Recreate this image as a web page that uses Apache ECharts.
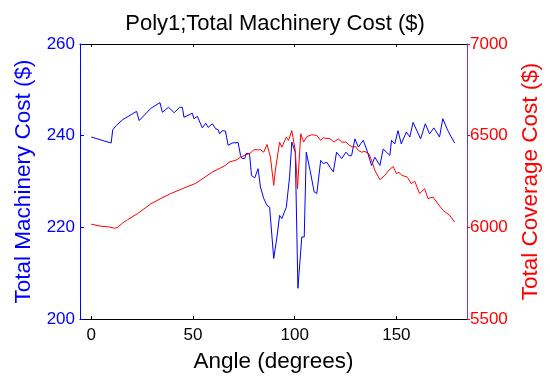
<!DOCTYPE html>
<html><head><meta charset="utf-8">
<script src="https://cdn.jsdelivr.net/npm/echarts@6/dist/echarts.min.js"></script>
<style>html,body{margin:0;padding:0;background:#fff}#c{width:550px;height:382px}</style>
</head><body><div id="c"></div>
<script>
const machineryAngle = [0,9.8,10.6,12.3,15.5,22.3,23.6,29.4,33.8,35,38,40.8,43.5,44.8,45.6,49.7,50.5,52.2,54.6,56.3,57.5,59.5,61.2,62.4,63.1,64.4,66,67.3,69.3,72.2,73.4,74.2,75.5,76.1,77.8,78.8,80.4,82,83.2,84.8,86.4,87.7,89.7,91.3,92.6,93.7,95.9,97.5,98.6,100.3,101.6,103.5,104.7,105.7,107.6,109.6,110.9,112.8,114.1,115.8,117.4,119,120.6,123.1,125.2,126.8,128,129.6,131.3,133.7,135.3,137.8,139.4,141.9,143.5,145.1,146.8,147.6,149.2,150.8,152.4,154.9,156.6,158.2,161.9,164.2,166.3,168.4,171.2,172.8,175.3,178.6];
const machineryCost = [239.7,238.4,241.3,242.2,243.5,245.3,243.3,246.0,247.2,245.1,246.2,245.0,246.2,246.2,244.0,244.9,243.7,244.2,241.7,242.7,241.8,242.6,241.5,241.3,240.4,241.1,241.0,237.9,238.4,238.5,235.7,235.0,235.0,236.1,236.1,231.3,230.8,232.8,228.8,226.3,224.8,224.4,213.2,217.9,222.6,221.9,224.4,231.0,238.6,236.4,206.7,217.9,217.9,236.4,232.4,227.7,227.4,234.6,233.9,234.2,233.1,232.1,236.4,235.0,236.4,235.6,235.7,239.3,237.5,239.0,237.1,233.5,235.3,233.5,237.1,236.4,235.7,239.0,238.2,241.1,238.2,240.8,239.7,242.9,239.3,242.6,240.4,241.7,239.7,243.7,241.1,238.4];
const coverageAngle = [0,4.9,9,11.4,13,15.5,17.9,22.8,29.4,34.2,39.1,44.8,51.4,59.5,66,67.7,71.7,73.4,75.8,78.3,79.9,83.2,84.8,86.4,88.1,89.7,90.5,92.6,93.7,95.9,97,98.6,100.3,101.4,103,104.4,106,108.4,110.9,112.8,114.1,117.4,119.4,121.5,123.1,125.2,126.9,128.8,129.9,131.3,132.9,134.5,136.5,137.8,139.4,141.9,144.3,145.9,148.4,150,151.2,152.8,155.4,157.3,159,161.4,163.9,165.5,168,170.4,172.9,173.7,176.1,178.6];
const coverageCost = [6017,6006,6002,5995,6000,6024,6042,6075,6129,6157,6184,6211,6240,6301,6338,6355,6369,6383,6395,6405,6423,6423,6410,6452,6383,6229,6311,6465,6437,6492,6474,6528,6419,6211,6510,6465,6495,6505,6501,6474,6488,6483,6465,6483,6465,6465,6447,6437,6441,6419,6410,6414,6401,6365,6311,6260,6283,6307,6332,6293,6300,6283,6274,6238,6252,6184,6211,6157,6165,6129,6093,6100,6066,6029];
const xTicks = [0,50,100,150];
const leftTicks = [200,220,240,260];
const rightTicks = [5500,6000,6500,7000];

const FONT = 'Liberation Sans';
const pair = (xs, ys) => xs.map((x, i) => [x, ys[i]]);
const chart = echarts.init(document.getElementById('c'), null, {renderer: 'canvas'});
const XMIN = -5.5, XMAX = 184.7;
chart.setOption({
  animation: false,
  backgroundColor: '#fff',
  title: {text: 'Poly1;Total Machinery Cost ($)', left: 'center', top: 8,
    textStyle: {fontFamily: FONT, fontSize: 22, fontWeight: 'normal', color: '#000'}},
  grid: {left: 80, right: 81, top: 44, bottom: 63},
  xAxis: [{
    type: 'value', min: XMIN, max: XMAX, position: 'bottom',
    name: 'Angle (degrees)', nameLocation: 'middle', nameGap: 31,
    nameTextStyle: {fontFamily: FONT, fontSize: 22.5, color: '#000'},
    axisLine: {show: true, onZero: false, lineStyle: {color: '#000', width: 1}},
    axisTick: {show: true, inside: true, length: 3, customValues: xTicks, lineStyle: {color: '#000'}},
    axisLabel: {customValues: xTicks, fontFamily: FONT, fontSize: 17, color: '#000', margin: 8},
    splitLine: {show: false}
  }, {
    type: 'value', min: XMIN, max: XMAX, position: 'top',
    axisLine: {show: true, onZero: false, lineStyle: {color: '#000', width: 1}},
    axisTick: {show: true, inside: true, length: 3, customValues: xTicks, lineStyle: {color: '#000'}},
    axisLabel: {show: false}, splitLine: {show: false}
  }],
  yAxis: [{
    type: 'value', min: leftTicks[0], max: leftTicks[leftTicks.length-1], interval: 20, position: 'left',
    name: 'Total Machinery Cost ($)', nameLocation: 'middle', nameRotate: 90, nameGap: 44,
    nameTextStyle: {fontFamily: FONT, fontSize: 22.5, color: '#0000ff'},
    axisLine: {show: true, onZero: false, lineStyle: {color: '#0000ff', width: 1}},
    axisTick: {show: true, inside: true, length: 4, lineStyle: {color: '#0000ff'}},
    axisLabel: {fontFamily: FONT, fontSize: 17, color: '#0000ff', margin: 5},
    splitLine: {show: false}
  }, {
    type: 'value', min: rightTicks[0], max: rightTicks[rightTicks.length-1], interval: 500, position: 'right',
    name: 'Total Coverage Cost ($)', nameLocation: 'middle', nameRotate: 90, nameGap: 52,
    nameTextStyle: {fontFamily: FONT, fontSize: 22.5, color: '#ff0000'},
    axisLine: {show: true, onZero: false, lineStyle: {color: '#993399', width: 1}},
    axisTick: {show: true, inside: false, length: 3, lineStyle: {color: '#ff0000'}},
    axisLabel: {fontFamily: FONT, fontSize: 17, color: '#ff0000', margin: 3, formatter: v => String(v)},
    splitLine: {show: false}
  }],
  series: [{
    type: 'line', name: 'Machinery', xAxisIndex: 0, yAxisIndex: 0,
    data: pair(machineryAngle, machineryCost), showSymbol: false,
    lineStyle: {color: '#0000ff', width: 1}, itemStyle: {color: '#0000ff'}
  }, {
    type: 'line', name: 'Coverage', xAxisIndex: 0, yAxisIndex: 1,
    data: pair(coverageAngle, coverageCost), showSymbol: false,
    lineStyle: {color: '#ff0000', width: 1}, itemStyle: {color: '#ff0000'}
  }]
});
</script></body></html>
